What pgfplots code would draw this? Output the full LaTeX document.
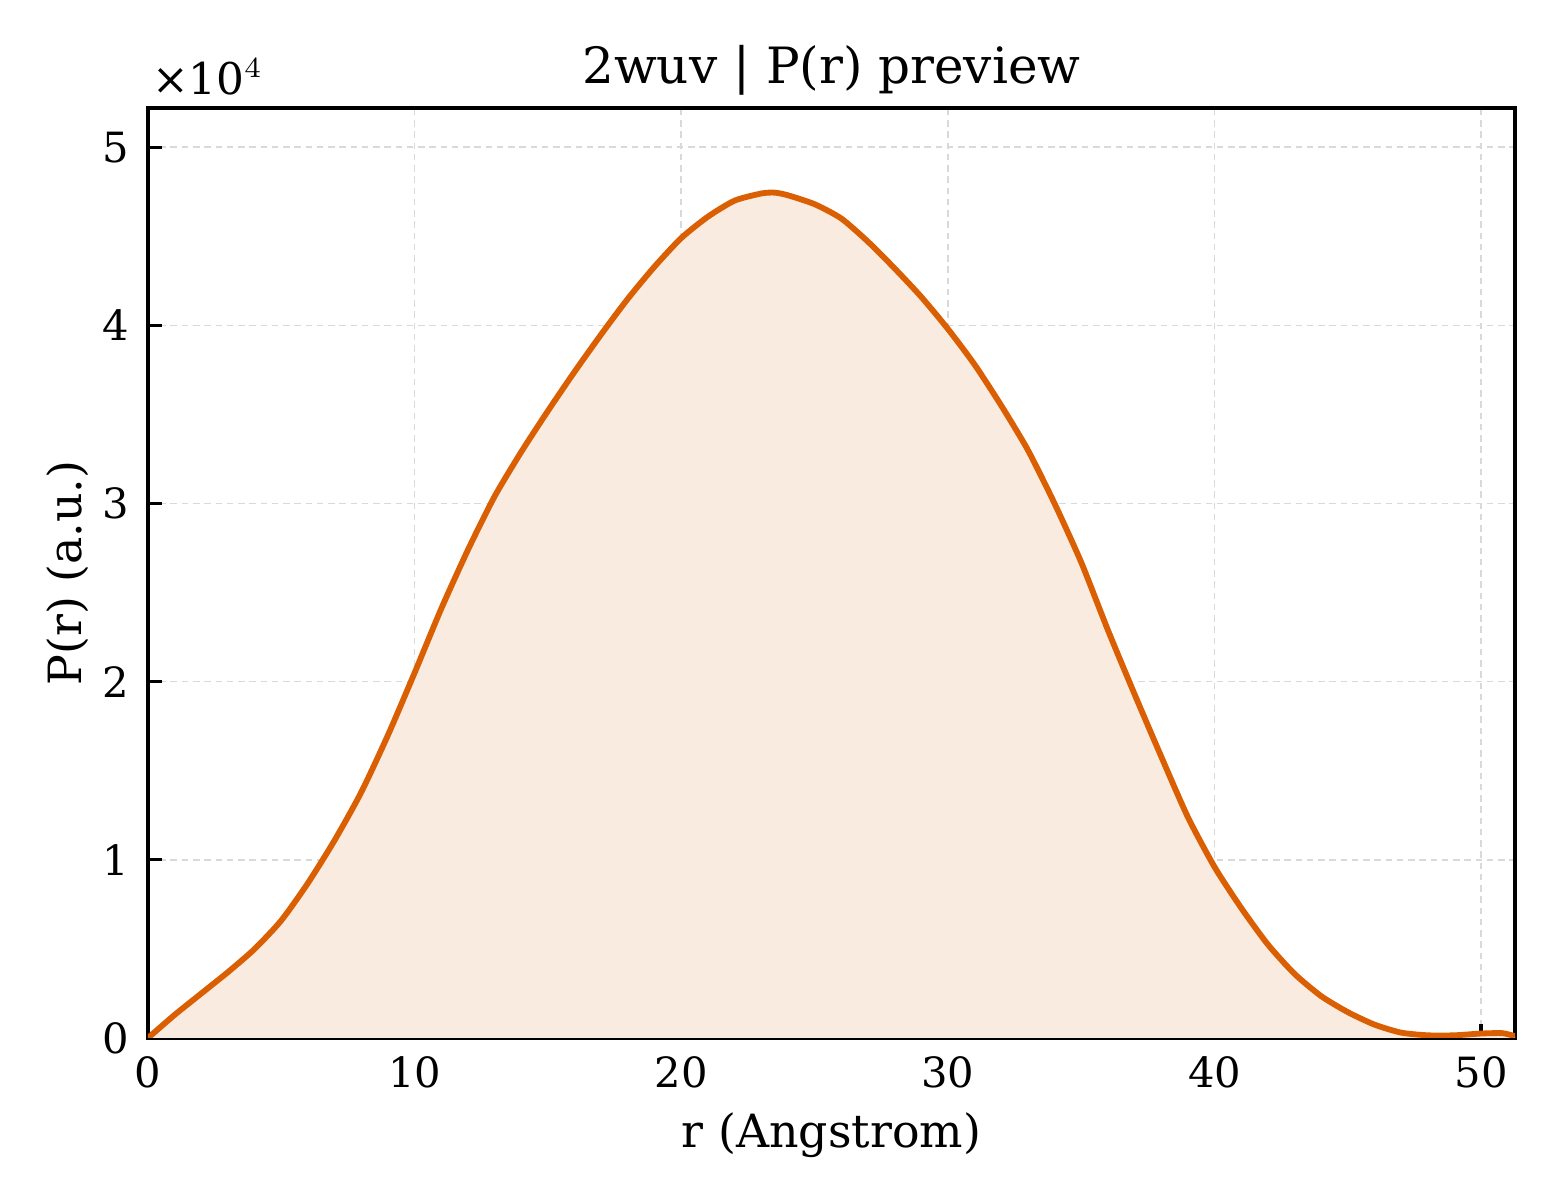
\documentclass[border=0pt]{standalone}
\usepackage{pgfplots}
\pgfplotsset{compat=1.18}
\usepackage{fontspec}
\setmainfont{DejaVu Serif}
\definecolor{prline}{HTML}{D95F02}
\definecolor{prfill}{HTML}{F9EBE0}
\definecolor{gridgray}{HTML}{D9D9D9}

\begin{document}
\begin{tikzpicture}
\useasboundingbox (-35.52pt,-38.88pt) rectangle (338.88pt,249.12pt);
\begin{axis}[
    scale only axis,
    width=328.08pt, height=223.2pt,
    xmin=0, xmax=51.27, ymin=0, ymax=5.22,
    xtick={0,10,20,30,40,50},
    ytick={0,1,2,3,4,5},
    tick align=inside,
    xtick pos=bottom, ytick pos=left,
    major tick length=3.4pt,
    every tick/.style={black, line width=0.8pt},
    axis line style={line width=0.9pt},
    grid=major,
    grid style={gridgray, line width=0.4pt, dash pattern=on 1.6pt off 1.1pt},
    tick label style={font=\fontsize{10}{12}\selectfont},
    /pgf/number format/assume math mode=true,
    xticklabel style={yshift=-1pt},
    yticklabel style={xshift=-1pt},
    xlabel={r (Angstrom)},
    ylabel={P(r) (a.u.)},
    label style={font=\fontsize{11}{13}\selectfont},
    xlabel style={yshift=1pt},
    ylabel style={yshift=-3.5pt},
    title={2wuv | P(r) preview},
    title style={font=\fontsize{12}{14}\selectfont, yshift=-6.5pt},
]
\addplot[draw=none, fill=prfill, smooth, tension=0.4] coordinates {
(0,0) (1,0.13) (2,0.25) (3,0.37) (4,0.50) (5,0.66) (6,0.87) (7,1.11) (8,1.38) (9,1.70)
(10,2.05) (11,2.41) (12,2.74) (13,3.04) (14,3.29) (15,3.52) (16,3.74) (17,3.95) (18,4.15) (19,4.33)
(20,4.49) (21,4.61) (22,4.70) (23,4.74) (23.5,4.745) (24,4.73) (25,4.68) (26,4.60) (27,4.47) (28,4.32) (29,4.16)
(30,3.98) (31,3.78) (32,3.55) (33,3.30) (34,3.00) (35,2.67) (36,2.29) (37,1.93) (38,1.58) (39,1.24)
(40,0.96) (41,0.73) (42,0.525) (43,0.36) (44,0.235) (45,0.145) (46,0.075) (47,0.03) (48,0.015) (49,0.015)
(50,0.025) (50.8,0.027) (51.27,0.01)
} \closedcycle;
\addplot[prline, line width=1.4pt, smooth, tension=0.4] coordinates {
(0,0) (1,0.13) (2,0.25) (3,0.37) (4,0.50) (5,0.66) (6,0.87) (7,1.11) (8,1.38) (9,1.70)
(10,2.05) (11,2.41) (12,2.74) (13,3.04) (14,3.29) (15,3.52) (16,3.74) (17,3.95) (18,4.15) (19,4.33)
(20,4.49) (21,4.61) (22,4.70) (23,4.74) (23.5,4.745) (24,4.73) (25,4.68) (26,4.60) (27,4.47) (28,4.32) (29,4.16)
(30,3.98) (31,3.78) (32,3.55) (33,3.30) (34,3.00) (35,2.67) (36,2.29) (37,1.93) (38,1.58) (39,1.24)
(40,0.96) (41,0.73) (42,0.525) (43,0.36) (44,0.235) (45,0.145) (46,0.075) (47,0.03) (48,0.015) (49,0.015)
(50,0.025) (50.8,0.027) (51.27,0.01)
};
\end{axis}
\node[anchor=south west, inner sep=0pt, font=\fontsize{10.5}{12}\selectfont]
    at ([xshift=0.8pt, yshift=3pt]current axis.north west) {×10$^{4}$};
\end{tikzpicture}
\end{document}
